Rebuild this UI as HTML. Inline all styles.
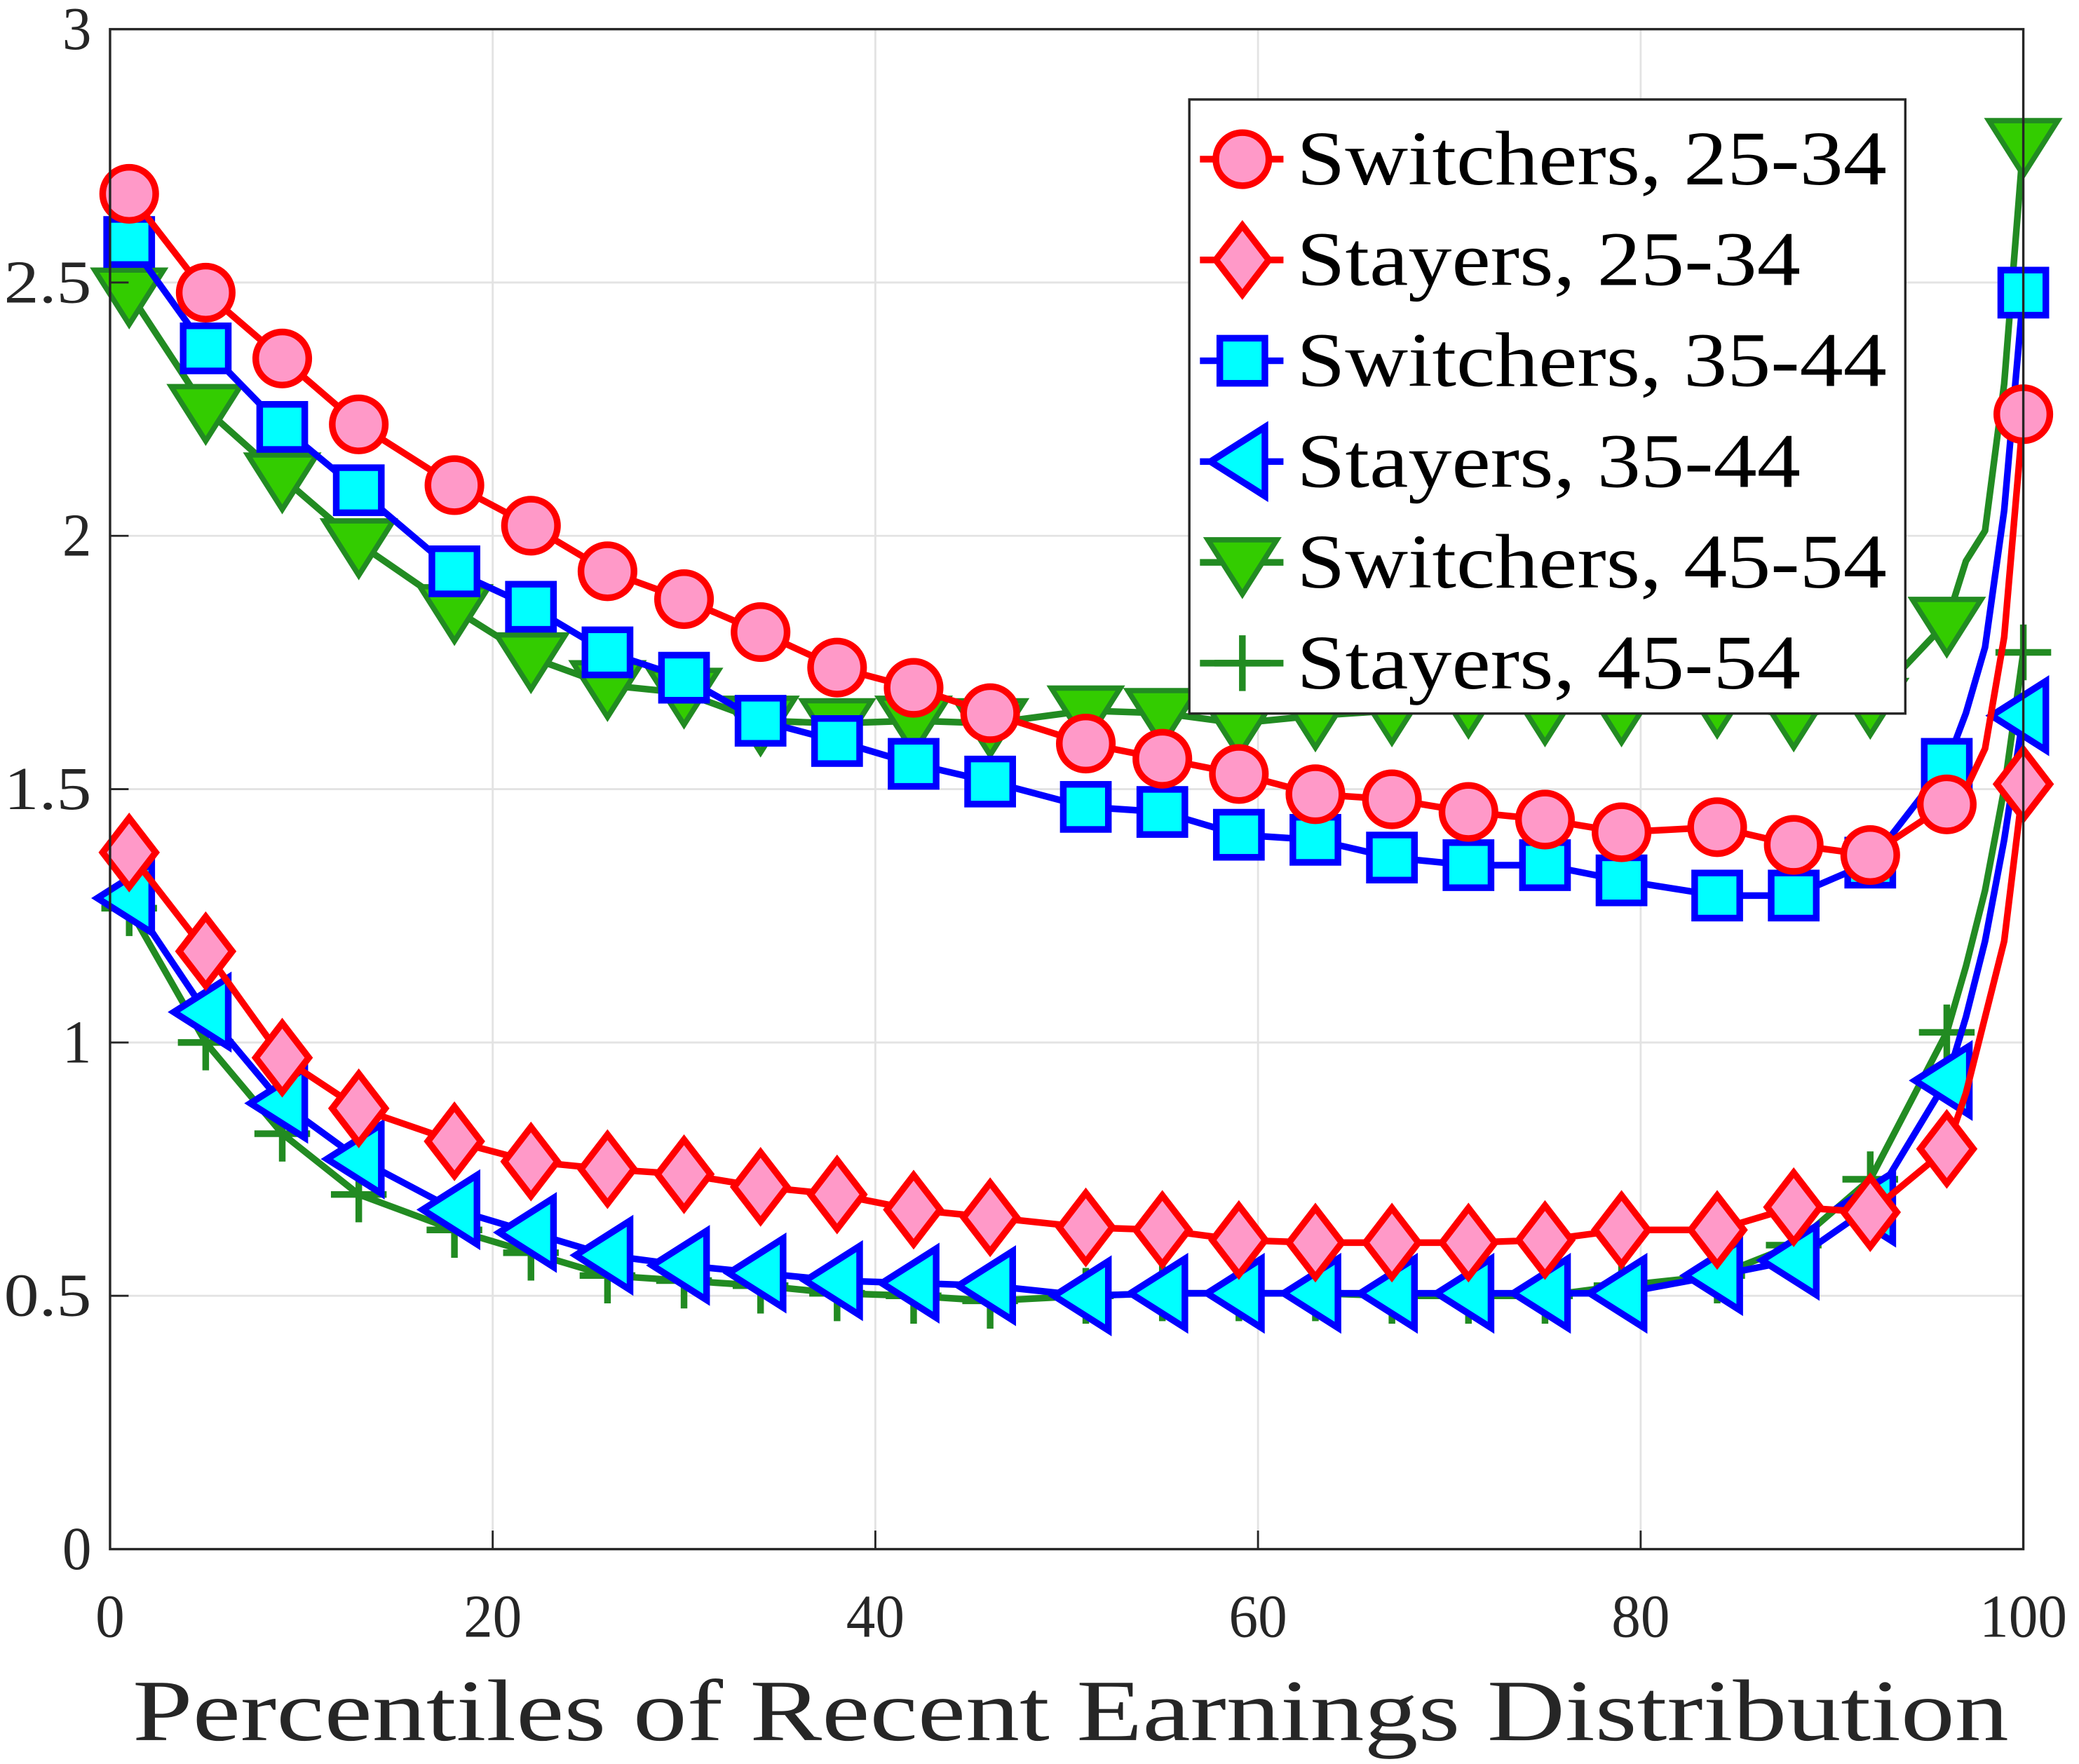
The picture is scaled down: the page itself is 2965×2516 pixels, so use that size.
<!DOCTYPE html>
<html><head><meta charset="utf-8"><style>html,body{margin:0;padding:0;background:#fff}svg{display:block}</style></head>
<body>
<svg id="chart" xmlns="http://www.w3.org/2000/svg" width="2965" height="2516" viewBox="0 0 1568 1330" preserveAspectRatio="none" font-family="'Liberation Serif', serif">
<g id="grid"></g>
<g id="series"></g>
<g id="axes"></g>
<g id="legend"></g>
</svg>
<script>
const xs = [1,5,9,13,18,22,26,30,34,38,42,46,51,55,59,63,67,71,75,79,84,88,92,96,97,98,99,100];
const lineOnly = [97,98,99];
const sw2534 = [2.675,2.48,2.35,2.22,2.10,2.02,1.93,1.875,1.81,1.74,1.70,1.65,1.59,1.56,1.53,1.49,1.48,1.455,1.44,1.415,1.425,1.39,1.37,1.47,1.50,1.58,1.80,2.24];
const st2534 = [1.375,1.18,0.97,0.87,0.805,0.765,0.75,0.74,0.715,0.70,0.67,0.655,0.635,0.63,0.61,0.605,0.605,0.605,0.61,0.63,0.63,0.675,0.665,0.79,0.90,1.05,1.20,1.51];
const sw3544 = [2.58,2.37,2.215,2.09,1.93,1.86,1.77,1.72,1.635,1.595,1.55,1.515,1.465,1.455,1.41,1.40,1.365,1.35,1.35,1.32,1.29,1.29,1.355,1.55,1.65,1.78,2.05,2.48];
const st3544 = [1.285,1.06,0.88,0.77,0.67,0.625,0.58,0.56,0.545,0.53,0.525,0.52,0.50,0.505,0.505,0.505,0.505,0.505,0.505,0.505,0.54,0.57,0.675,0.925,1.05,1.20,1.40,1.645];
const sw4554 = [2.48,2.25,2.115,1.985,1.855,1.76,1.705,1.69,1.635,1.63,1.635,1.63,1.655,1.65,1.63,1.645,1.655,1.67,1.655,1.655,1.67,1.645,1.67,1.83,1.95,2.01,2.30,2.775];
const st4554 = [1.265,1.0,0.82,0.70,0.63,0.585,0.54,0.53,0.52,0.505,0.50,0.49,0.50,0.505,0.505,0.505,0.50,0.50,0.50,0.52,0.54,0.60,0.73,1.02,1.15,1.30,1.50,1.77];
const xTicks = [0,20,40,60,80,100];
const yTicks = [0,0.5,1,1.5,2,2.5,3];
const yTickLabels = ["0","0.5","1","1.5","2","2.5","3"];
const seriesNames = ["Switchers, 25-34","Stayers, 25-34","Switchers, 35-44","Stayers, 35-44","Switchers, 45-54","Stayers, 45-54"];

const NS="http://www.w3.org/2000/svg";
const X0=83,X1=1526,Y0=1168,Y1=22;
const sx=v=>X0+(X1-X0)*v/100;
const sy=v=>Y0-(Y0-Y1)*v/3;
function mk(tag,attrs,parent){const e=document.createElementNS(NS,tag);for(const k in attrs)e.setAttribute(k,attrs[k]);parent.appendChild(e);return e;}
const grid=document.getElementById('grid'),axes=document.getElementById('axes'),ser=document.getElementById('series'),leg=document.getElementById('legend');
xTicks.forEach(t=>{const l=mk('line',{x1:sx(t),x2:sx(t),y1:Y1,y2:Y0,stroke:'#e3e3e3','stroke-width':1.5},grid);


const s=String(t);
const tx=mk('text',{x:sx(t),y:1234,'text-anchor':'middle','font-size':46,fill:'#262626',textLength:s.length*22,lengthAdjust:'spacingAndGlyphs'},axes);tx.textContent=s;


mk('line',{x1:sx(t),x2:sx(t),y1:Y0,y2:Y0-14,stroke:'#262626','stroke-width':1.5},axes);});
yTicks.forEach((t,i)=>{const l=mk('line',{x1:X0,x2:X1,y1:sy(t),y2:sy(t),stroke:'#e3e3e3','stroke-width':1.5},grid);


const s=yTickLabels[i];
const tx=mk('text',{x:69,y:sy(t)+15,'text-anchor':'end','font-size':46,fill:'#262626',textLength:s.length===1?22:66,lengthAdjust:'spacingAndGlyphs'},axes);tx.textContent=s;


mk('line',{x1:X0,x2:X0+14,y1:sy(t),y2:sy(t),stroke:'#262626','stroke-width':1.5},axes);});
const box=mk('rect',{x:X0,y:Y1,width:X1-X0,height:Y0-Y1,fill:'none',stroke:'#262626','stroke-width':1.8},axes);


const xl=mk('text',{x:100,y:1312,'font-size':66,fill:'#262626',textLength:1415,lengthAdjust:'spacingAndGlyphs'},axes);xl.textContent='Percentiles of Recent Earnings Distribution';



function marker(type,cx,cy,s,parent){
 const r=20;let e;
 if(type==='circle')e=mk('circle',{cx,cy,r},parent);
 else if(type==='diamond')e=mk('polygon',{points:`${cx},${cy-r*1.3} ${cx+r*1.0},${cy} ${cx},${cy+r*1.3} ${cx-r*1.0},${cy}`},parent);
 else if(type==='square')e=mk('rect',{x:cx-17,y:cy-17,width:34,height:34},parent);
 else if(type==='left')e=mk('polygon',{points:`${cx-24},${cy} ${cx+17},${cy-26} ${cx+17},${cy+26}`},parent);
 else if(type==='down')e=mk('polygon',{points:`${cx-26},${cy-17} ${cx+26},${cy-17} ${cx},${cy+24}`},parent);
 else {e=mk('path',{d:`M${cx-21},${cy}H${cx+21}M${cx},${cy-21}V${cy+21}`},parent);}
 e.setAttribute('fill',s.fill);e.setAttribute('stroke',s.stroke);e.setAttribute('stroke-width',s.mw);
 return e;
}
const styles=[
 {d:sw2534,stroke:'#ff0000',fill:'#ff99c8',type:'circle',mw:5},
 {d:st2534,stroke:'#ff0000',fill:'#ff99c8',type:'diamond',mw:5},
 {d:sw3544,stroke:'#0000ff',fill:'#00ffff',type:'square',mw:5},
 {d:st3544,stroke:'#0000ff',fill:'#00ffff',type:'left',mw:5},
 {d:sw4554,stroke:'#228b22',fill:'#33cc00',type:'down',mw:4},
 {d:st4554,stroke:'#228b22',fill:'none',type:'plus',mw:5}];
const order=[5,4,3,2,1,0];
order.forEach(i=>{const s=styles[i];const g=mk('g',{},ser);
 
 
 const pts=xs.map((x,j)=>sx(x)+','+sy(s.d[j])).join(' ');
 mk('polyline',{points:pts,fill:'none',stroke:s.stroke,'stroke-width':5,'stroke-linejoin':'round'},g);
 xs.forEach((x,j)=>{if(lineOnly.includes(x))return;const m=marker(s.type,sx(x),sy(s.d[j]),s,g);
  
  });
});
const lb=mk('rect',{x:897,y:75,width:540,height:463,fill:'#fff',stroke:'#262626','stroke-width':1.8},leg);


styles.forEach((s,i)=>{const y=120+i*76;const g=mk('g',{},leg);
 
 
 mk('line',{x1:905,x2:968,y1:y,y2:y,stroke:s.stroke,'stroke-width':5},g);
 marker(s.type,937,y,s,g);
 const w=seriesNames[i].startsWith('Switchers')?445:380;
 const t=mk('text',{x:978,y:y+19,'font-size':58,fill:'#000',textLength:w,lengthAdjust:'spacingAndGlyphs'},g);t.textContent=seriesNames[i];
});
</script>
</body></html>
